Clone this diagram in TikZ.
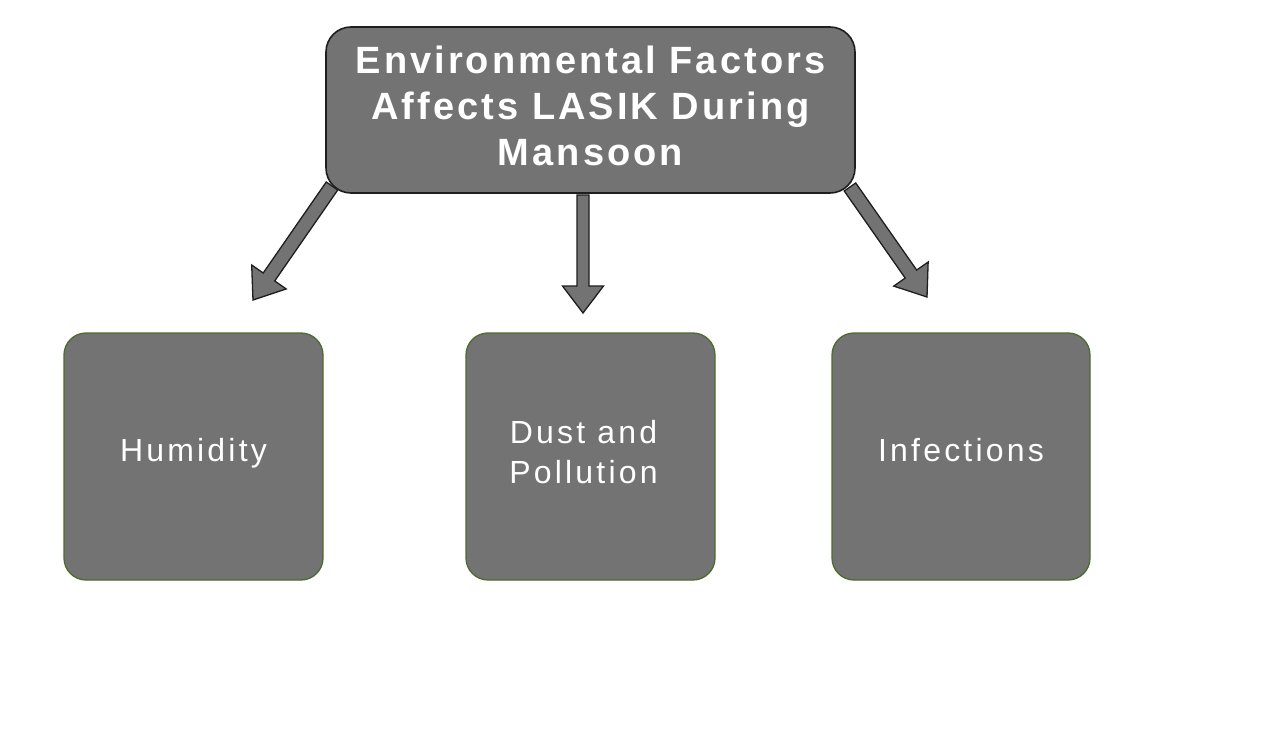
\documentclass[tikz,border=0pt]{standalone}
\usepackage{fontspec}
\setmainfont{Liberation Sans}
\newfontfamily\titlefont{Liberation Sans}[LetterSpace=8]
\newfontfamily\boxfont{Liberation Sans}[LetterSpace=10]
\usetikzlibrary{calc}
\definecolor{boxgray}{HTML}{737373}
\definecolor{topborder}{HTML}{1E1E1E}
\definecolor{greenborder}{HTML}{4E6B30}
\tikzset{
  topbox/.style={draw=topborder, line width=1.6pt, fill=boxgray, rounded corners=25pt,
    minimum width=529pt, minimum height=166pt, inner sep=0pt, align=center,
    text=white, font=\titlefont\bfseries\fontsize{38}{46}\selectfont, text depth=9pt},
  subbox/.style={draw=greenborder, line width=1.3pt, fill=boxgray, rounded corners=22pt,
    minimum height=247pt, inner sep=0pt, align=center, text=white,
    font=\boxfont\fontsize{32}{40}\selectfont, text height=23pt, text depth=13pt},
  barrow/.style={draw=topborder, line width=1.3pt, fill=boxgray, line join=miter}
}
\newcommand{\blockarr}[5]{%
  \coordinate (hb) at ($(#2)!#5!(#1)$);
  \draw[barrow] ($(#1)!#3!90:(#2)$) -- ($(hb)!#3!-90:(#1)$) -- ($(hb)!#4!-90:(#1)$) -- (#2)
    -- ($(hb)!#4!90:(#1)$) -- ($(hb)!#3!90:(#1)$) -- ($(#1)!#3!-90:(#2)$) -- cycle;}
\begin{document}
\begin{tikzpicture}[x=1pt,y=-1pt]
\useasboundingbox[fill=white] (0,0) rectangle (1280,730);
\node[topbox] (top) at (590.5,110) {Environmental Factors\\Affects LASIK During\\Mansoon};
\node[subbox, minimum width=259pt] (hum) at (193.5,456.5) {Humidity};
\node[subbox, minimum width=249pt, text height=63pt, text depth=9pt] (dust) at (590.5,456.5) {Dust and\hspace*{14pt}\\Pollution\hspace*{14pt}};
\node[subbox, minimum width=258pt] (inf) at (961,456.5) {Infections};
\coordinate (a1s) at (332,186);
\coordinate (a1t) at (253,300);
\coordinate (a2s) at (583,195);
\coordinate (a2t) at (583,313);
\coordinate (a3s) at (850,187);
\coordinate (a3t) at (927,297);
\blockarr{a1s}{a1t}{7pt}{21pt}{28pt}
\blockarr{a2s}{a2t}{6pt}{20.5pt}{27pt}
\blockarr{a3s}{a3t}{7pt}{21pt}{28pt}
\end{tikzpicture}
\end{document}
